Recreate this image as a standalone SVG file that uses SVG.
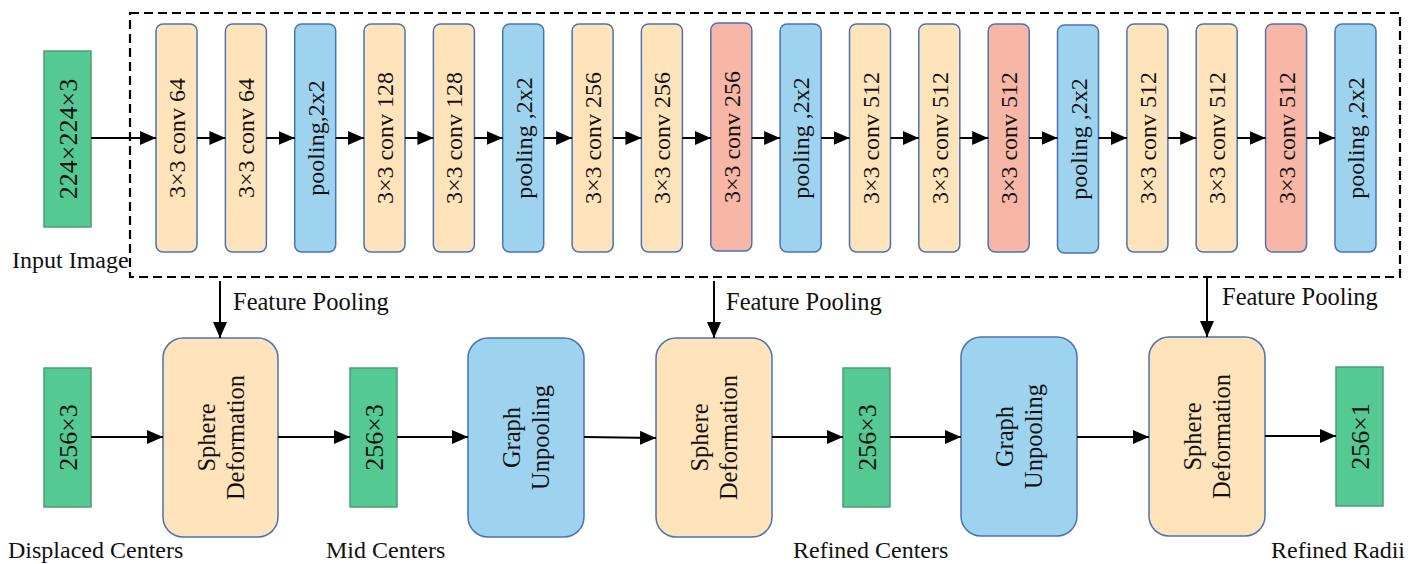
<svg xmlns="http://www.w3.org/2000/svg" width="1408" height="564" viewBox="0 0 1408 564">
<style>
text{font-family:"Liberation Serif","Times New Roman",serif;fill:#111}
.conv{fill:#FFE3BA;stroke:#4A73B5;stroke-width:1.5}
.pool{fill:#9DD3EE;stroke:#4A73B5;stroke-width:1.5}
.red{fill:#F7B6A6;stroke:#4A73B5;stroke-width:1.5}
.grn{fill:#55C994;stroke:#4A9E72;stroke-width:1.5}
.t22{font-size:24px}
.t24{font-size:24.5px}
.tg{font-size:26px}
.lbl{font-size:24px}
.ar{stroke:#000;stroke-width:2;fill:none;marker-end:url(#ah)}
</style>
<defs>
<marker id="ah" markerUnits="userSpaceOnUse" markerWidth="16" markerHeight="14" refX="16" refY="7" orient="auto">
<path d="M0,0 L16,7 L0,14 z" fill="#000"/>
</marker>
</defs>
<rect x="0" y="0" width="1408" height="564" fill="#fff"/>
<rect id="encoder-frame" x="130" y="13" width="1270" height="264" fill="none" stroke="#000" stroke-width="2.2" stroke-dasharray="9 5"/>

<g id="input"><rect class="grn" x="44" y="51" width="47" height="176"/><text class="tg" text-anchor="middle" transform="translate(67.5,139) rotate(-90)" y="9">224×224×3</text><text class="lbl" x="12" y="268">Input Image</text></g>

<g id="c1"><rect class="conv" x="156" y="24" width="41" height="228" rx="7"/><text class="t22" text-anchor="middle" transform="translate(176.5,138) rotate(-90)" y="8.5">3×3 conv 64</text></g>
<g id="c2"><rect class="conv" x="225.4" y="24" width="41" height="228" rx="7"/><text class="t22" text-anchor="middle" transform="translate(245.9,138) rotate(-90)" y="8.5">3×3 conv 64</text></g>
<g id="p1"><rect class="pool" x="294.7" y="24" width="41" height="228" rx="7"/><text class="t22" text-anchor="middle" transform="translate(315.2,138) rotate(-90)" y="8.5">pooling,2x2</text></g>
<g id="c3"><rect class="conv" x="364" y="24" width="41" height="228" rx="7"/><text class="t22" text-anchor="middle" transform="translate(384.5,138) rotate(-90)" y="8.5">3×3 conv 128</text></g>
<g id="c4"><rect class="conv" x="433.4" y="24" width="41" height="228" rx="7"/><text class="t22" text-anchor="middle" transform="translate(453.9,138) rotate(-90)" y="8.5">3×3 conv 128</text></g>
<g id="p2"><rect class="pool" x="502.7" y="24" width="41" height="228" rx="7"/><text class="t22" text-anchor="middle" transform="translate(523.2,138) rotate(-90)" y="8.5">pooling ,2x2</text></g>
<g id="c5"><rect class="conv" x="572.1" y="24" width="41" height="228" rx="7"/><text class="t22" text-anchor="middle" transform="translate(592.6,138) rotate(-90)" y="8.5">3×3 conv 256</text></g>
<g id="c6"><rect class="conv" x="641.4" y="24" width="41" height="228" rx="7"/><text class="t22" text-anchor="middle" transform="translate(661.9,138) rotate(-90)" y="8.5">3×3 conv 256</text></g>
<g id="c7"><rect class="red" x="710.8" y="23" width="41" height="228" rx="7"/><text class="t22" text-anchor="middle" transform="translate(731.3,137) rotate(-90)" y="8.5">3×3 conv 256</text></g>
<g id="p3"><rect class="pool" x="780.1" y="24" width="41" height="228" rx="7"/><text class="t22" text-anchor="middle" transform="translate(800.6,138) rotate(-90)" y="8.5">pooling ,2x2</text></g>
<g id="c8"><rect class="conv" x="849.5" y="24" width="41" height="228" rx="7"/><text class="t22" text-anchor="middle" transform="translate(870,138) rotate(-90)" y="8.5">3×3 conv 512</text></g>
<g id="c9"><rect class="conv" x="918.8" y="24" width="41" height="228" rx="7"/><text class="t22" text-anchor="middle" transform="translate(939.3,138) rotate(-90)" y="8.5">3×3 conv 512</text></g>
<g id="c10"><rect class="red" x="988.2" y="24" width="41" height="228" rx="7"/><text class="t22" text-anchor="middle" transform="translate(1008.7,138) rotate(-90)" y="8.5">3×3 conv 512</text></g>
<g id="p4"><rect class="pool" x="1057.5" y="25" width="41" height="228" rx="7"/><text class="t22" text-anchor="middle" transform="translate(1078,139) rotate(-90)" y="8.5">pooling ,2x2</text></g>
<g id="c11"><rect class="conv" x="1126.9" y="24" width="41" height="228" rx="7"/><text class="t22" text-anchor="middle" transform="translate(1147.4,138) rotate(-90)" y="8.5">3×3 conv 512</text></g>
<g id="c12"><rect class="conv" x="1196.2" y="24" width="41" height="228" rx="7"/><text class="t22" text-anchor="middle" transform="translate(1216.7,138) rotate(-90)" y="8.5">3×3 conv 512</text></g>
<g id="c13"><rect class="red" x="1265.6" y="24" width="41" height="228" rx="7"/><text class="t22" text-anchor="middle" transform="translate(1286.1,138) rotate(-90)" y="8.5">3×3 conv 512</text></g>
<g id="p5"><rect class="pool" x="1335" y="24" width="41" height="228" rx="7"/><text class="t22" text-anchor="middle" transform="translate(1355.5,138) rotate(-90)" y="8.5">pooling ,2x2</text></g>

<g id="g1"><rect class="grn" x="44" y="368" width="47" height="139"/><text class="tg" text-anchor="middle" transform="translate(67.5,437.5) rotate(-90)" y="9">256×3</text><text class="lbl" x="8" y="558">Displaced Centers</text></g>
<g id="sd1"><rect class="conv" x="163" y="338" width="115" height="199" rx="20"/><text class="t24" text-anchor="middle" transform="translate(220.5,437.5) rotate(-90)"><tspan x="0" y="-6">Sphere</tspan><tspan x="0" y="23">Deformation</tspan></text></g>
<g id="g2"><rect class="grn" x="350" y="368" width="47" height="139"/><text class="tg" text-anchor="middle" transform="translate(373.5,437.5) rotate(-90)" y="9">256×3</text><text class="lbl" x="326" y="558">Mid Centers</text></g>
<g id="gu1"><rect class="pool" x="468" y="338" width="116" height="199" rx="20"/><text class="t24" text-anchor="middle" transform="translate(526,437.5) rotate(-90)"><tspan x="0" y="-6">Graph</tspan><tspan x="0" y="23">Unpooling</tspan></text></g>
<g id="sd2"><rect class="conv" x="656" y="338" width="116" height="199" rx="20"/><text class="t24" text-anchor="middle" transform="translate(714,437.5) rotate(-90)"><tspan x="0" y="-6">Sphere</tspan><tspan x="0" y="23">Deformation</tspan></text></g>
<g id="g3"><rect class="grn" x="843" y="368" width="47" height="139"/><text class="tg" text-anchor="middle" transform="translate(866.5,437.5) rotate(-90)" y="9">256×3</text><text class="lbl" x="793" y="558">Refined Centers</text></g>
<g id="gu2"><rect class="pool" x="961" y="337" width="116" height="199" rx="20"/><text class="t24" text-anchor="middle" transform="translate(1019,436.5) rotate(-90)"><tspan x="0" y="-6">Graph</tspan><tspan x="0" y="23">Unpooling</tspan></text></g>
<g id="sd3"><rect class="conv" x="1149" y="337" width="116" height="199" rx="20"/><text class="t24" text-anchor="middle" transform="translate(1207,436.5) rotate(-90)"><tspan x="0" y="-6">Sphere</tspan><tspan x="0" y="23">Deformation</tspan></text></g>
<g id="g4"><rect class="grn" x="1336" y="367" width="47" height="139"/><text class="tg" text-anchor="middle" transform="translate(1359.5,436.5) rotate(-90)" y="9">256×1</text><text class="lbl" x="1271" y="558">Refined Radii</text></g>

<g id="connectors">
<line class="ar" x1="91" y1="138" x2="156" y2="138"/>
<line class="ar" x1="197" y1="138" x2="225.4" y2="138"/>
<line class="ar" x1="266.4" y1="138" x2="294.7" y2="138"/>
<line class="ar" x1="335.7" y1="138" x2="364" y2="138"/>
<line class="ar" x1="405" y1="138" x2="433.4" y2="138"/>
<line class="ar" x1="474.4" y1="138" x2="502.7" y2="138"/>
<line class="ar" x1="543.7" y1="138" x2="572.1" y2="138"/>
<line class="ar" x1="613.1" y1="138" x2="641.4" y2="138"/>
<line class="ar" x1="682.4" y1="138" x2="710.8" y2="138"/>
<line class="ar" x1="751.8" y1="138" x2="780.1" y2="138"/>
<line class="ar" x1="821.1" y1="138" x2="849.5" y2="138"/>
<line class="ar" x1="890.5" y1="138" x2="918.8" y2="138"/>
<line class="ar" x1="959.8" y1="138" x2="988.2" y2="138"/>
<line class="ar" x1="1029.2" y1="138" x2="1057.5" y2="138"/>
<line class="ar" x1="1098.5" y1="138" x2="1126.9" y2="138"/>
<line class="ar" x1="1167.9" y1="138" x2="1196.2" y2="138"/>
<line class="ar" x1="1237.2" y1="138" x2="1265.6" y2="138"/>
<line class="ar" x1="1306.6" y1="138" x2="1335" y2="138"/>
<line class="ar" x1="91" y1="437" x2="163" y2="437"/>
<line class="ar" x1="278" y1="437" x2="350" y2="437"/>
<line class="ar" x1="397" y1="437" x2="468" y2="437"/>
<line class="ar" x1="584" y1="437" x2="656" y2="438"/>
<line class="ar" x1="772" y1="437" x2="843" y2="437"/>
<line class="ar" x1="890" y1="437" x2="961" y2="437"/>
<line class="ar" x1="1077" y1="437" x2="1149" y2="437"/>
<line class="ar" x1="1265" y1="436" x2="1336" y2="436"/>
<line class="ar" x1="220" y1="281" x2="220" y2="338"/>
<line class="ar" x1="714" y1="281" x2="714" y2="338"/>
<line class="ar" x1="1207" y1="277" x2="1207" y2="337"/>
<text class="lbl" x="233" y="310" style="font-size:24.5px">Feature Pooling</text>
<text class="lbl" x="726" y="310" style="font-size:24.5px">Feature Pooling</text>
<text class="lbl" x="1222" y="305" style="font-size:24.5px">Feature Pooling</text>
</g>
</svg>
